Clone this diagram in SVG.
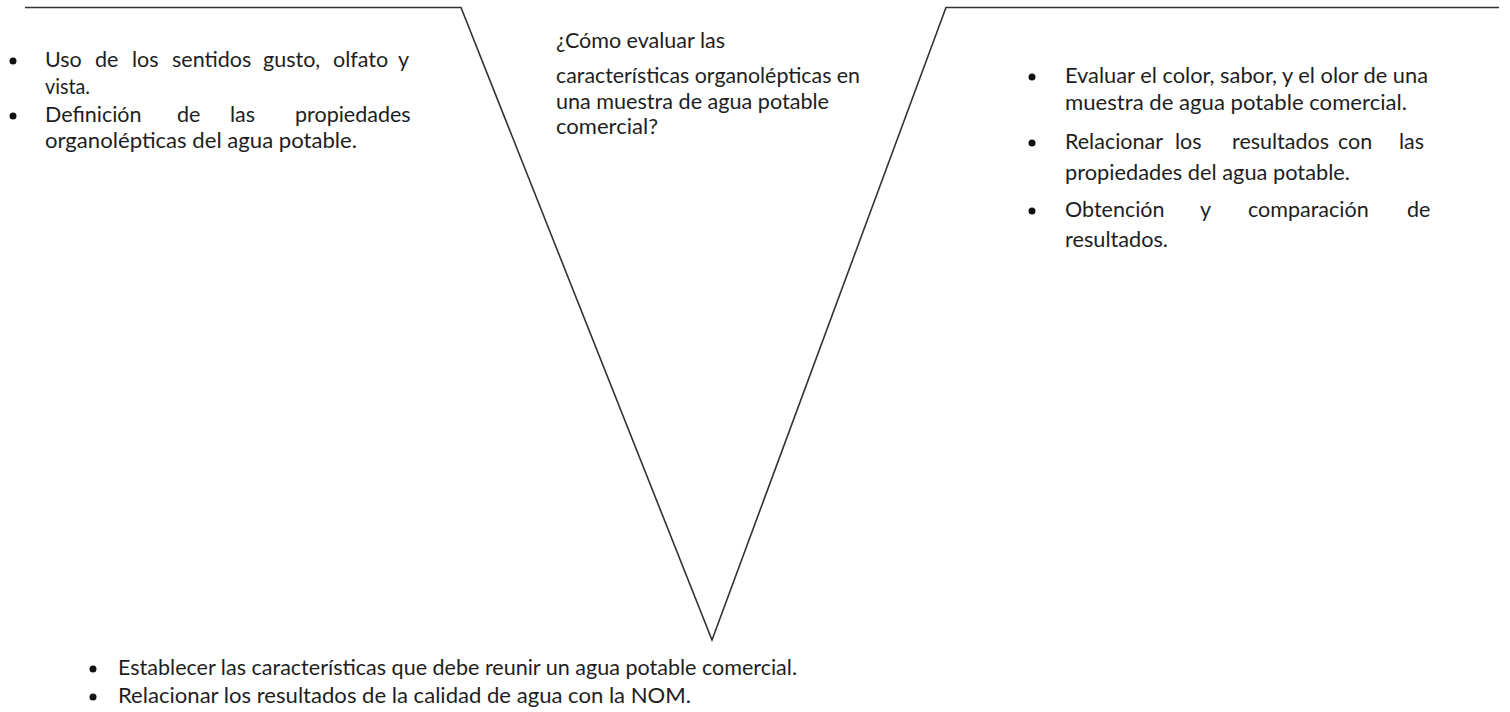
<svg xmlns="http://www.w3.org/2000/svg" width="1510" height="712" viewBox="0 0 1510 712">
  <style>
    .t { font-family: Lato, "Open Sans", "Liberation Sans", sans-serif; font-size: 21.5px; fill: #1e1e1e; }
    .edge { fill: none; stroke: #333; stroke-width: 1.6; stroke-linejoin: miter; }
    .dot { fill: #111; }
  </style>

  <!-- V outline -->
  <g id="connectors">
    <path class="edge" d="M25 7.5 H461 L712 640 L946 7.5 H1499"/>
  </g>

  <!-- left shoulder: theory -->
  <g id="node-left">
    <circle class="dot" cx="13" cy="61" r="3.5"/>
    <text class="t" y="67"><tspan x="45">Uso</tspan><tspan x="95">de</tspan><tspan x="132">los</tspan><tspan x="172">sentidos</tspan><tspan x="263">gusto,</tspan><tspan x="333">olfato</tspan><tspan x="398">y</tspan></text>
    <text class="t" x="45" y="94" textLength="45" lengthAdjust="spacingAndGlyphs">vista.</text>
    <circle class="dot" cx="13" cy="116" r="3.5"/>
    <text class="t" y="122"><tspan x="45">Definición</tspan><tspan x="177">de</tspan><tspan x="230">las</tspan><tspan x="295">propiedades</tspan></text>
    <text class="t" x="45" y="148" textLength="312" lengthAdjust="spacingAndGlyphs">organolépticas del agua potable.</text>
  </g>

  <!-- centre: focus question -->
  <g id="node-question">
    <text class="t" x="556" y="48" textLength="169" lengthAdjust="spacingAndGlyphs">¿Cómo evaluar las</text>
    <text class="t" x="556" y="83" textLength="304" lengthAdjust="spacingAndGlyphs">características organolépticas en</text>
    <text class="t" x="556" y="109" textLength="273" lengthAdjust="spacingAndGlyphs">una muestra de agua potable</text>
    <text class="t" x="556" y="134" textLength="102" lengthAdjust="spacingAndGlyphs">comercial?</text>
  </g>

  <!-- right shoulder: methodology -->
  <g id="node-right">
    <circle class="dot" cx="1032" cy="77" r="3.5"/>
    <text class="t" x="1065" y="83" textLength="363" lengthAdjust="spacingAndGlyphs">Evaluar el color, sabor, y el olor de una</text>
    <text class="t" x="1065" y="110" textLength="342" lengthAdjust="spacingAndGlyphs">muestra de agua potable comercial.</text>
    <circle class="dot" cx="1032" cy="143" r="3.5"/>
    <text class="t" y="149"><tspan x="1065">Relacionar</tspan><tspan x="1175">los</tspan><tspan x="1232">resultados</tspan><tspan x="1338">con</tspan><tspan x="1399">las</tspan></text>
    <text class="t" x="1065" y="180" textLength="285" lengthAdjust="spacingAndGlyphs">propiedades del agua potable.</text>
    <circle class="dot" cx="1032" cy="211" r="3.5"/>
    <text class="t" y="217"><tspan x="1065">Obtención</tspan><tspan x="1200">y</tspan><tspan x="1248">comparación</tspan><tspan x="1407">de</tspan></text>
    <text class="t" x="1065" y="247" textLength="103" lengthAdjust="spacingAndGlyphs">resultados.</text>
  </g>

  <!-- bottom: events -->
  <g id="node-bottom">
    <circle class="dot" cx="93" cy="669" r="3.5"/>
    <text class="t" x="118" y="675" textLength="679" lengthAdjust="spacingAndGlyphs">Establecer las características que debe reunir un agua potable comercial.</text>
    <circle class="dot" cx="93" cy="697" r="3.5"/>
    <text class="t" x="118" y="703" textLength="573" lengthAdjust="spacingAndGlyphs">Relacionar los resultados de la calidad de agua con la NOM.</text>
  </g>
</svg>
